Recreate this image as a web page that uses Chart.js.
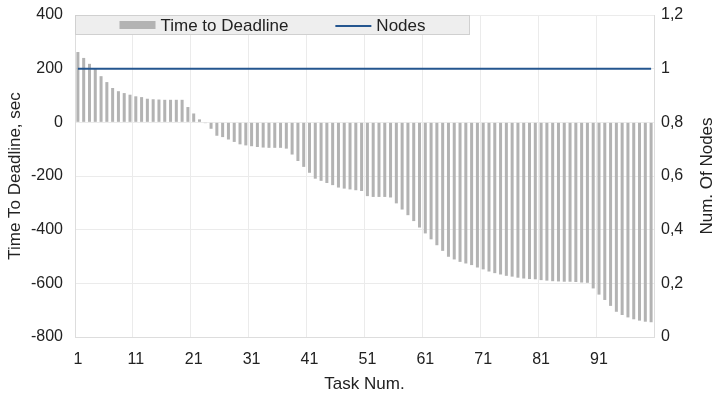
<!DOCTYPE html>
<html>
<head>
<meta charset="utf-8">
<script src="https://cdn.jsdelivr.net/npm/chart.js@4.4.1/dist/chart.umd.min.js"></script>
<style>
  html, body { margin: 0; padding: 0; background: #fff; }
  #chart-container { width: 718px; height: 400px; }
</style>
</head>
<body>
<div id="chart-container"><canvas id="myChart"></canvas></div>
<script>
// task numbers 1..100 (x categories)
const taskNums = Array.from({ length: 100 }, (_, i) => String(i + 1));

// time to deadline per task, sec
const timeToDeadline = [
  262, 240, 218, 200, 172, 150, 128, 116, 109, 103,
  97, 94, 88, 86, 85, 84, 84, 84, 84, 57,
  33, 11, -3, -24, -50, -55, -64, -73, -82, -86,
  -89, -92, -94, -95, -95, -95, -98, -120, -144, -166,
  -188, -210, -218, -226, -234, -243, -247, -250, -253, -256,
  -275, -278, -278, -278, -280, -302, -325, -346, -368, -392,
  -414, -436, -458, -479, -501, -511, -520, -526, -532, -541,
  -548, -556, -562, -567, -572, -575, -579, -582, -584, -585,
  -588, -590, -592, -593, -594, -594, -595, -597, -598, -619,
  -642, -662, -684, -706, -718, -727, -734, -739, -743, -745,
];

// number of nodes per task
const nodes = [
  1, 1, 1, 1, 1, 1, 1, 1, 1, 1, 1, 1, 1, 1, 1, 1, 1, 1, 1, 1,
  1, 1, 1, 1, 1, 1, 1, 1, 1, 1, 1, 1, 1, 1, 1, 1, 1, 1, 1, 1,
  1, 1, 1, 1, 1, 1, 1, 1, 1, 1, 1, 1, 1, 1, 1, 1, 1, 1, 1, 1,
  1, 1, 1, 1, 1, 1, 1, 1, 1, 1, 1, 1, 1, 1, 1, 1, 1, 1, 1, 1,
  1, 1, 1, 1, 1, 1, 1, 1, 1, 1, 1, 1, 1, 1, 1, 1, 1, 1, 1, 1,
];

const FONT = '"Liberation Sans", Arial, sans-serif';
const TEXT = "#222";
const GRID = "#ebebeb";

// legend in a grey box inside the top of the plot
const legendBox = {
  id: "legendBox",
  afterDatasetsDraw(chart) {
    const { ctx, chartArea } = chart;
    const x0 = chartArea.left;
    const y0 = chartArea.top;
    const w = 395;
    const h = 20;
    ctx.save();
    ctx.fillStyle = "#eeeeee";
    ctx.fillRect(x0, y0, w, h);
    ctx.strokeStyle = "#d0d0d0";
    ctx.lineWidth = 1;
    ctx.strokeRect(x0 + 0.5, y0 + 0.5, w - 1, h - 1);

    ctx.font = "17px " + FONT;
    ctx.textBaseline = "middle";
    const sets = chart.data.datasets;
    const sw = 36, gap = 5, itemGap = 47;
    const widths = sets.map((d) => ctx.measureText(d.label).width);
    const total =
      sets.length * (sw + gap) +
      widths.reduce((a, b) => a + b, 0) +
      itemGap * (sets.length - 1);
    let x = x0 + (w - total) / 2;
    const cy = y0 + h / 2;
    sets.forEach((d, i) => {
      if (d.type === "line") {
        ctx.strokeStyle = d.borderColor;
        ctx.lineWidth = 2;
        ctx.beginPath();
        ctx.moveTo(x, cy + 1);
        ctx.lineTo(x + sw, cy + 1);
        ctx.stroke();
      } else {
        ctx.fillStyle = d.backgroundColor;
        ctx.fillRect(x, cy - 4, sw, 8);
      }
      x += sw + gap;
      ctx.fillStyle = TEXT;
      ctx.fillText(d.label, x, cy + 1);
      x += widths[i] + itemGap;
    });
    ctx.restore();
  },
};

// right axis title, reading bottom to top like the left one
const rightTitle = {
  id: "rightTitle",
  afterDraw(chart) {
    const { ctx, chartArea } = chart;
    ctx.save();
    ctx.translate(707, (chartArea.top + chartArea.bottom) / 2);
    ctx.rotate(-Math.PI / 2);
    ctx.font = "17px " + FONT;
    ctx.fillStyle = TEXT;
    ctx.textAlign = "center";
    ctx.textBaseline = "middle";
    ctx.fillText("Num. Of Nodes", 0, 0);
    ctx.restore();
  },
};

const ctx = document.getElementById("myChart").getContext("2d");
const myChart = new Chart(ctx, {
  type: "bar",
  data: {
    labels: taskNums,
    datasets: [
      {
        label: "Time to Deadline",
        data: timeToDeadline,
        backgroundColor: "#b3b3b3",
        barPercentage: 0.52,
        categoryPercentage: 1,
        yAxisID: "y",
        order: 1,
      },
      {
        type: "line",
        label: "Nodes",
        data: nodes,
        borderColor: "#24568f",
        borderWidth: 2,
        pointRadius: 0,
        yAxisID: "y1",
        order: 0,
      },
    ],
  },
  options: {
    responsive: true,
    maintainAspectRatio: false,
    animation: false,
    layout: { padding: { top: 15, left: 0, right: 0, bottom: 0 } },
    plugins: {
      legend: { display: false },
      tooltip: { enabled: false },
    },
    scales: {
      x: {
        afterFit: (scale) => { scale.height = 63; },
        grid: {
          color: (c) => (c.index % 10 === 0 ? GRID : "transparent"),
          drawTicks: false,
        },
        border: { color: "#dddddd" },
        ticks: {
          autoSkip: false,
          maxRotation: 0,
          padding: 13,
          color: TEXT,
          font: { family: FONT, size: 16 },
          callback: (v, i) => (i % 10 === 0 ? taskNums[i] : ""),
        },
        title: {
          display: true,
          text: "Task Num.",
          color: TEXT,
          font: { family: FONT, size: 17 },
          padding: { top: 0, bottom: 5 },
        },
      },
      y: {
        position: "left",
        min: -800,
        max: 400,
        afterFit: (scale) => {
          scale.width = 75;
          scale.paddingTop = 0;
          scale.paddingBottom = 0;
        },
        grid: { color: GRID, drawTicks: false },
        border: { color: "#dddddd" },
        ticks: {
          stepSize: 200,
          padding: 12,
          color: TEXT,
          font: { family: FONT, size: 16 },
        },
        title: {
          display: true,
          text: "Time To Deadline, sec",
          color: TEXT,
          font: { family: FONT, size: 17 },
          padding: { top: 5, bottom: 0 },
        },
      },
      y1: {
        position: "right",
        min: 0,
        max: 1.2,
        afterFit: (scale) => {
          scale.width = 64;
          scale.paddingTop = 0;
          scale.paddingBottom = 0;
        },
        grid: { drawOnChartArea: false, drawTicks: false },
        border: { color: "#dddddd" },
        ticks: {
          stepSize: 0.2,
          padding: 7,
          color: TEXT,
          font: { family: FONT, size: 16 },
          callback: (v) => String(Math.round(v * 10) / 10).replace(".", ","),
        },
      },
    },
  },
  plugins: [legendBox, rightTitle],
});
</script>
</body>
</html>
